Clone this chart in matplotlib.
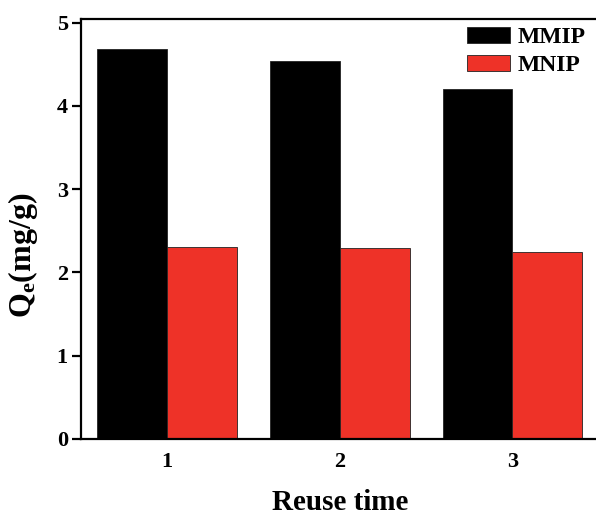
import numpy as np
import matplotlib
matplotlib.use("Agg")
import matplotlib.pyplot as plt

plt.rcParams["font.family"] = ["Liberation Serif", "DejaVu Serif"]
plt.rcParams["font.weight"] = "bold"
plt.rcParams["mathtext.fontset"] = "custom"
plt.rcParams["mathtext.rm"] = "Liberation Serif:bold"
plt.rcParams["mathtext.bf"] = "Liberation Serif:bold"
plt.rcParams["mathtext.it"] = "Liberation Serif:bold:italic"

# data
reuse_times = ["1", "2", "3"]
mmip_values = [4.68, 4.54, 4.21]
mnip_values = [2.31, 2.29, 2.245]

BLACK = "#000000"
RED = "#ee3228"

W, H = 596, 517
fig = plt.figure(figsize=(W / 100, H / 100), dpi=100)
# axes placed in pixel terms; right spine falls just outside the image as in the reference
left_px, right_px, top_px, bottom_px = 81, 598.7, 19, 439
ax_w, ax_h = right_px - left_px, bottom_px - top_px
ax = fig.add_axes([left_px / W, 1 - bottom_px / H, ax_w / W, ax_h / H])

x = np.arange(1, len(reuse_times) + 1)
width = 0.405
ax.bar(x - width / 2, mmip_values, width=width, color=BLACK,
       edgecolor="#222222", linewidth=0.6, label="MMIP")
ax.bar(x + width / 2, mnip_values, width=width, color=RED,
       edgecolor="#222222", linewidth=0.6, label="MNIP")

ax.set_xlim(0.5, 3.5)
ax.set_ylim(0, 5.045)
ax.set_xticks(x)
ax.set_xticklabels(reuse_times)
ax.set_yticks([0, 1, 2, 3, 4, 5])

for spine in ax.spines.values():
    spine.set_linewidth(1.6)
ax.tick_params(axis="y", direction="out", length=6.5, width=1.6,
               labelsize=16, pad=3)
ax.tick_params(axis="x", length=0, labelsize=16, pad=9.5)

ax.set_xlabel("Reuse time", fontsize=21, fontweight="bold", labelpad=12)
ax.set_ylabel(r"Q$_{\mathrm{e}}$(mg/g)", fontsize=23, fontweight="bold")
ax.yaxis.set_label_coords((40 - left_px) / ax_w, (bottom_px - 255) / ax_h)

leg = ax.legend(loc="upper left", bbox_to_anchor=(466.7 / W, 1 - 27 / H),
                bbox_transform=fig.transFigure, frameon=False, fontsize=17,
                handlelength=1.82, handleheight=0.68, handletextpad=0.35,
                labelspacing=0.28, borderpad=0, borderaxespad=0)
for t in leg.get_texts():
    t.set_fontweight("bold")

fig.savefig("out.png", dpi=100)
